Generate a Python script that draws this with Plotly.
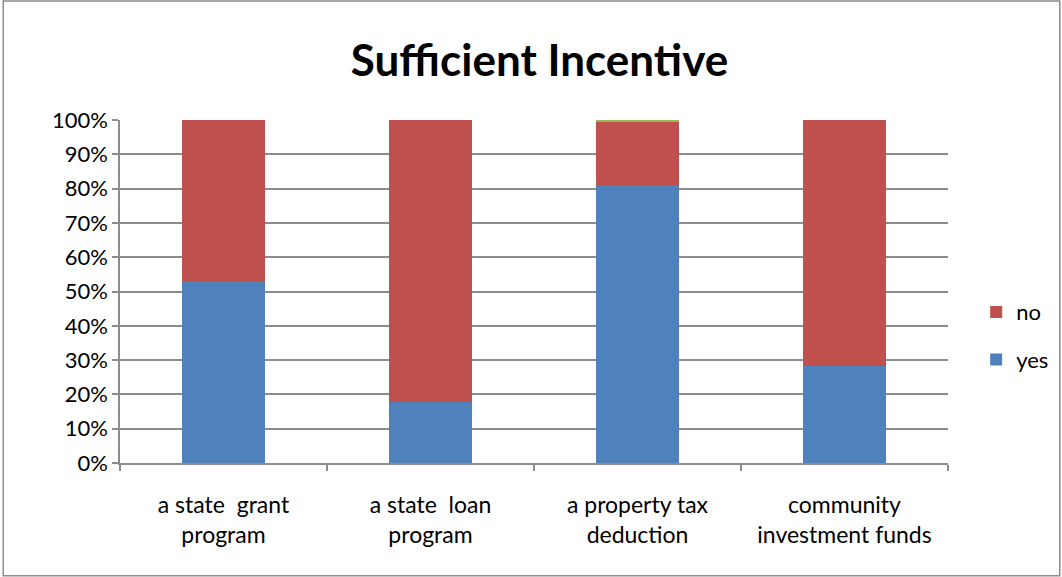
import plotly.graph_objects as go

categories = ["a state  grant<br>program", "a state  loan<br>program",
              "a property tax<br>deduction", "community<br>investment funds"]
yes_vals = [53.2, 17.8, 81.0, 28.2]
no_vals = [46.8, 82.2, 18.5, 71.8]
other_vals = [0.0, 0.0, 0.5, 0.0]

BLUE = "#4F81BD"
RED = "#C0504D"
GREEN = "#9BBB59"
GRID = "#8C8C8C"
FONT = "Lato"

fig = go.Figure()
fig.add_trace(go.Bar(x=categories, y=yes_vals, name="yes", marker_color=BLUE,
                     marker_line_width=0, legendgroup="yes", legendrank=2, width=0.4))
fig.add_trace(go.Bar(x=categories, y=no_vals, name="no", marker_color=RED,
                     marker_line_width=0, legendgroup="no", legendrank=1, width=0.4))
fig.add_trace(go.Bar(x=categories, y=other_vals, name="other", marker_color=GREEN,
                     marker_line_width=0, showlegend=False, width=0.4))

fig.update_layout(
    width=1062, height=577,
    barmode="stack",
    paper_bgcolor="white", plot_bgcolor="white",
    margin=dict(l=120, r=114, t=120, b=114, autoexpand=False),
    font=dict(family=FONT, color="black", size=22),
    title=dict(text="<b>Sufficient Incentive</b>", x=0.508, xanchor="center",
               y=0.895, yanchor="middle", font=dict(size=44, family=FONT)),
    legend=dict(x=1.034, y=0.37, xanchor="left", yanchor="middle",
                traceorder="grouped", tracegroupgap=16,
                font=dict(size=22, family=FONT), itemwidth=30),
    bargap=0.6,
    shapes=[dict(type="rect", xref="paper", yref="paper", x0=-0.141, x1=1.135,
                 y0=-0.329, y1=1.347, line=dict(color="#8C8C8C", width=1.5))],
)
fig.update_xaxes(showline=True, linecolor=GRID, linewidth=1.5, ticks="outside",
                 tickson="boundaries", ticklen=6, tickcolor=GRID, tickwidth=1.5,
                 showgrid=False, ticklabelstandoff=21,
                 tickfont=dict(size=23, family=FONT))
fig.update_yaxes(range=[0, 100], dtick=10, ticksuffix="%", showline=True,
                 linecolor=GRID, linewidth=1.5, ticks="outside", ticklen=6,
                 tickcolor=GRID, tickwidth=1.5, showgrid=True, gridcolor=GRID,
                 gridwidth=1.5, zeroline=False, tickfont=dict(size=22, family=FONT))

fig.write_html("out.html")
